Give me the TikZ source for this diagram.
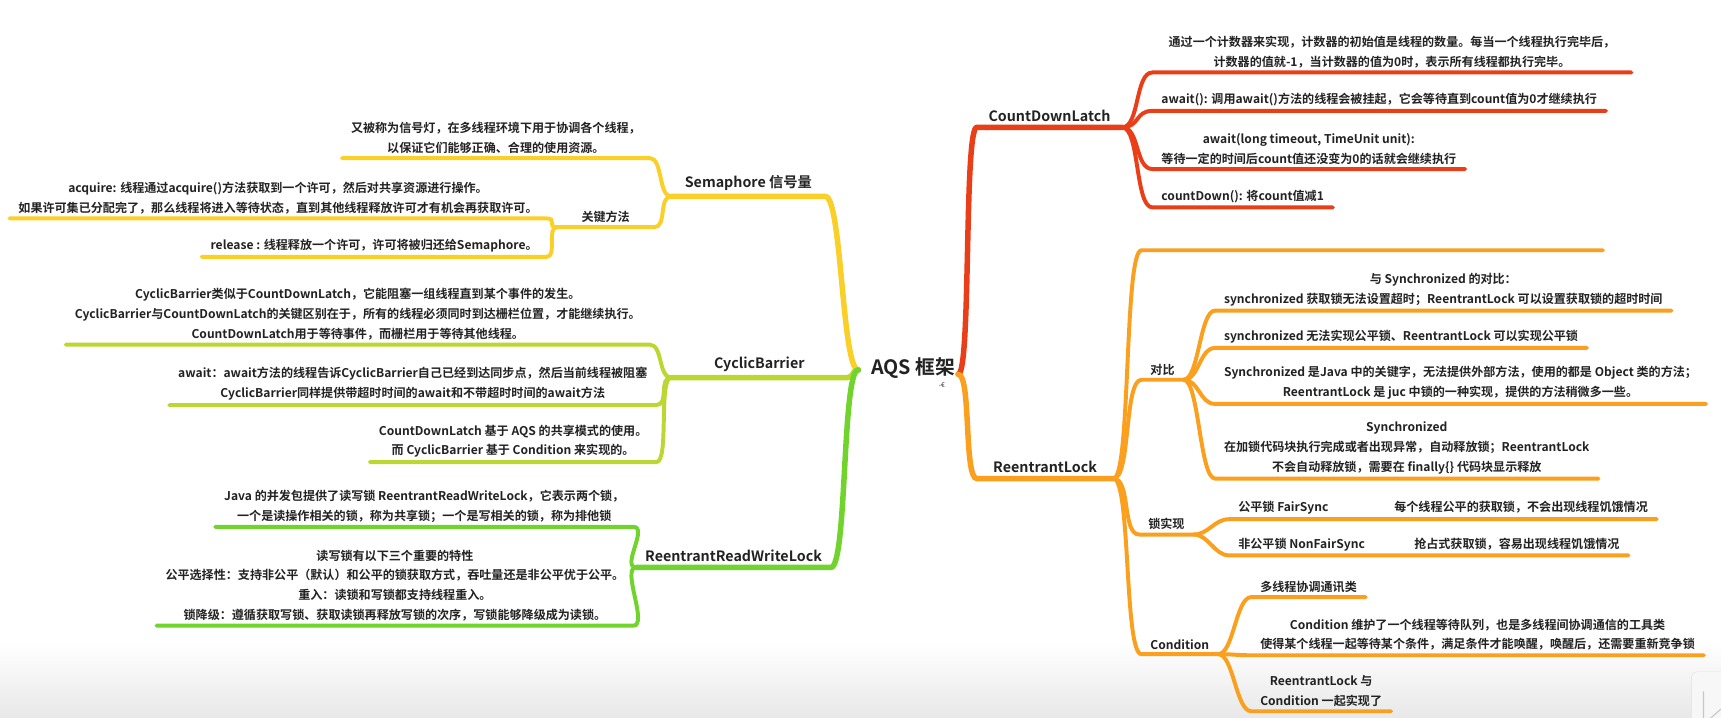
\documentclass[tikz,border=0pt]{standalone}
\usepackage{fontspec}
\setmainfont{Noto Sans CJK SC}[BoldFont={* Bold}]
\definecolor{branchRed}{RGB}{233,62,24}
\definecolor{branchOrange}{RGB}{250,160,30}
\definecolor{branchYellow}{RGB}{250,208,40}
\definecolor{branchLime}{RGB}{188,214,50}
\definecolor{branchGreen}{RGB}{112,212,44}
\definecolor{inkGray}{RGB}{34,34,34}

\begin{document}
\begin{tikzpicture}[x=1pt,y=-1pt,
    leaf/.style={inner xsep=8pt, inner ysep=4pt, align=center, text=inkGray,
      font=\fontsize{11}{18}\selectfont\bfseries},
    rleaf/.style={leaf, anchor=south west},
    lleaf/.style={leaf, anchor=south east},
    head/.style={leaf, inner ysep=5pt, font=\fontsize{13}{16}\selectfont\bfseries},
    rhead/.style={head, anchor=south west},
    lhead/.style={head, anchor=south east},
    trunk/.style={line width=5pt, line cap=round},
    twig/.style={line width=3.6pt, line cap=round}]
  \useasboundingbox (0,0) rectangle (1568,654);
  \shade[top color=white, bottom color=black!9] (0,585) rectangle (1568,654);
  \draw[black!12, fill=black!3, rounded corners=5pt] (1541,612) rectangle (1590,672);
  \draw[black!22, line width=1pt] (1552,630) -- (1552,660) -- (1568,646);

  % centre
  \node[font=\fontsize{18}{20}\selectfont\bfseries, text=inkGray] (aqs) at (832,335) {AQS 框架};
  \node[font=\fontsize{6}{7}\selectfont, text=inkGray] (aqsmark) at (858,351) {-€};
  \coordinate (aqsL) at (782,337);
  \coordinate (aqsR) at (873,341);

  % CountDownLatch
  \node[rhead, minimum width=132pt] (cdl) at (890,116) {CountDownLatch};
  \node[rleaf, minimum width=436pt] (cdl1) at (1050,66) {通过一个计数器来实现，计数器的初始值是线程的数量。每当一个线程执行完毕后，\\计数器的值就-1，当计数器的值为0时，表示所有线程都执行完毕。};
  \node[rleaf] (cdl2) at (1050,101) {await(): 调用await()方法的线程会被挂起，它会等待直到count值为0才继续执行};
  \node[rleaf] (cdl3) at (1050,154) {await(long timeout, TimeUnit unit):\\等待一定的时间后count值还没变为0的话就会继续执行};
  \node[rleaf] (cdl4) at (1050,189) {countDown(): 将count值减1};

  % ReentrantLock
  \node[rhead, minimum width=124pt] (rl) at (890,436) {ReentrantLock};
  \node[rleaf, minimum width=420pt, minimum height=8pt] (rl0) at (1040,228) {};
  \node[rleaf] (cmp) at (1040,346) {对比};
  \node[rleaf] (impl) at (1038,487) {锁实现};
  \node[rleaf] (cond) at (1040,596) {Condition};
  \node[rleaf] (cmp1) at (1107,283) {与 Synchronized 的对比：\\synchronized 获取锁无法设置超时；ReentrantLock 可以设置获取锁的超时时间};
  \node[rleaf] (cmp2) at (1107,317) {synchronized 无法实现公平锁、ReentrantLock 可以实现公平锁};
  \node[rleaf] (cmp3) at (1107,368) {Synchronized 是Java 中的关键字，无法提供外部方法，使用的都是 Object 类的方法；\\ReentrantLock 是 juc 中锁的一种实现，提供的方法稍微多一些。};
  \node[rleaf] (cmp4) at (1107,436) {Synchronized\\在加锁代码块执行完成或者出现异常，自动释放锁；ReentrantLock\\不会自动释放锁，需要在 finally\{\} 代码块显示释放};
  \node[rleaf] (impl1) at (1120,473) {公平锁 FairSync\hspace{60pt}每个线程公平的获取锁，不会出现线程饥饿情况};
  \node[rleaf] (impl2) at (1120,506) {非公平锁 NonFairSync\hspace{45pt}抢占式获取锁，容易出现线程饥饿情况};
  \node[rleaf] (cond1) at (1140,544) {多线程协调通讯类};
  \node[rleaf] (cond2) at (1140,597) {Condition 维护了一个线程等待队列，也是多线程间协调通信的工具类\\使得某个线程一起等待某个条件，满足条件才能唤醒，唤醒后，还需要重新竞争锁};
  \node[rleaf] (cond3) at (1140,648) {ReentrantLock 与\\Condition 一起实现了};

  % Semaphore
  \node[lhead, minimum width=140pt] (sem) at (752,179) {Semaphore 信号量};
  \node[lleaf] (sem1) at (592,144) {又被称为信号灯，在多线程环境下用于协调各个线程，\\以保证它们能够正确、合理的使用资源。};
  \node[lleaf, minimum width=88pt] (keym) at (596,207) {关键方法};
  \node[lleaf] (acq) at (498,199) {acquire: 线程通过acquire()方法获取到一个许可，然后对共享资源进行操作。\\如果许可集已分配完了，那么线程将进入等待状态，直到其他线程释放许可才有机会再获取许可。};
  \node[lleaf] (rel) at (498,234) {release : 线程释放一个许可，许可将被归还给Semaphore。};

  % CyclicBarrier
  \node[lhead, minimum width=160pt] (cb) at (772,344) {CyclicBarrier};
  \node[lleaf] (cb1) at (592,314) {CyclicBarrier类似于CountDownLatch，它能阻塞一组线程直到某个事件的发生。\\CyclicBarrier与CountDownLatch的关键区别在于，所有的线程必须同时到达栅栏位置，才能继续执行。\\CountDownLatch用于等待事件，而栅栏用于等待其他线程。};
  \node[lleaf] (cb2) at (598,369) {await：await方法的线程告诉CyclicBarrier自己已经到达同步点，然后当前线程被阻塞\\CyclicBarrier同样提供带超时时间的await和不带超时时间的await方法};
  \node[lleaf] (cb3) at (598,421) {CountDownLatch 基于 AQS 的共享模式的使用。\\而 CyclicBarrier 基于 Condition 来实现的。};

  % ReentrantReadWriteLock
  \node[lhead, minimum width=160pt] (rrwl) at (757,517) {ReentrantReadWriteLock};
  \node[lleaf] (rw1) at (577,480) {Java 的并发包提供了读写锁 ReentrantReadWriteLock，它表示两个锁，\\一个是读操作相关的锁，称为共享锁；一个是写相关的锁，称为排他锁};
  \node[lleaf] (rw2) at (577,570) {读写锁有以下三个重要的特性\\公平选择性：支持非公平（默认）和公平的锁获取方式，吞吐量还是非公平优于公平。\\重入：读锁和写锁都支持线程重入。\\锁降级：遵循获取写锁、获取读锁再释放写锁的次序，写锁能够降级成为读锁。};

  % main branches
  \draw[branchRed, trunk] (aqsR) .. controls +(12,0) and +(-12,0) .. (cdl.south west) -- (cdl.south east);
  \draw[branchOrange, trunk] (aqsR) .. controls +(12,0) and +(-12,0) .. (rl.south west) -- (rl.south east);
  \draw[branchYellow, trunk] (aqsL) .. controls +(-15,0) and +(15,0) .. (sem.south east) -- (sem.south west);
  \draw[branchLime, trunk] (aqsL) .. controls +(-6,0) and +(6,0) .. (cb.south east) -- (cb.south west);
  \draw[branchGreen, trunk] (aqsL) .. controls +(-15,0) and +(15,0) .. (rrwl.south east) -- (rrwl.south west);

  % sub branches
  \foreach \n in {cdl1,cdl2,cdl3,cdl4}
    \draw[branchRed, twig] (cdl.south east) .. controls +(16,0) and +(-16,0) .. (\n.south west) -- (\n.south east);
  \foreach \n in {rl0,cmp,impl,cond}
    \draw[branchOrange, twig] (rl.south east) .. controls +(16,0) and +(-16,0) .. (\n.south west) -- (\n.south east);
  \foreach \n in {cmp1,cmp2,cmp3,cmp4}
    \draw[branchOrange, twig] (cmp.south east) .. controls +(14,0) and +(-14,0) .. (\n.south west) -- (\n.south east);
  \foreach \n in {impl1,impl2}
    \draw[branchOrange, twig] (impl.south east) .. controls +(14,0) and +(-14,0) .. (\n.south west) -- (\n.south east);
  \foreach \n in {cond1,cond2,cond3}
    \draw[branchOrange, twig] (cond.south east) .. controls +(14,0) and +(-14,0) .. (\n.south west) -- (\n.south east);
  \foreach \n in {sem1,keym}
    \draw[branchYellow, twig] (sem.south west) .. controls +(-12,0) and +(12,0) .. (\n.south east) -- (\n.south west);
  \foreach \n in {acq,rel}
    \draw[branchYellow, twig] (keym.south west) .. controls +(-10,0) and +(10,0) .. (\n.south east) -- (\n.south west);
  \foreach \n in {cb1,cb2,cb3}
    \draw[branchLime, twig] (cb.south west) .. controls +(-12,0) and +(12,0) .. (\n.south east) -- (\n.south west);
  \foreach \n in {rw1,rw2}
    \draw[branchGreen, twig] (rrwl.south west) .. controls +(-14,0) and +(14,0) .. (\n.south east) -- (\n.south west);
\end{tikzpicture}
\end{document}
